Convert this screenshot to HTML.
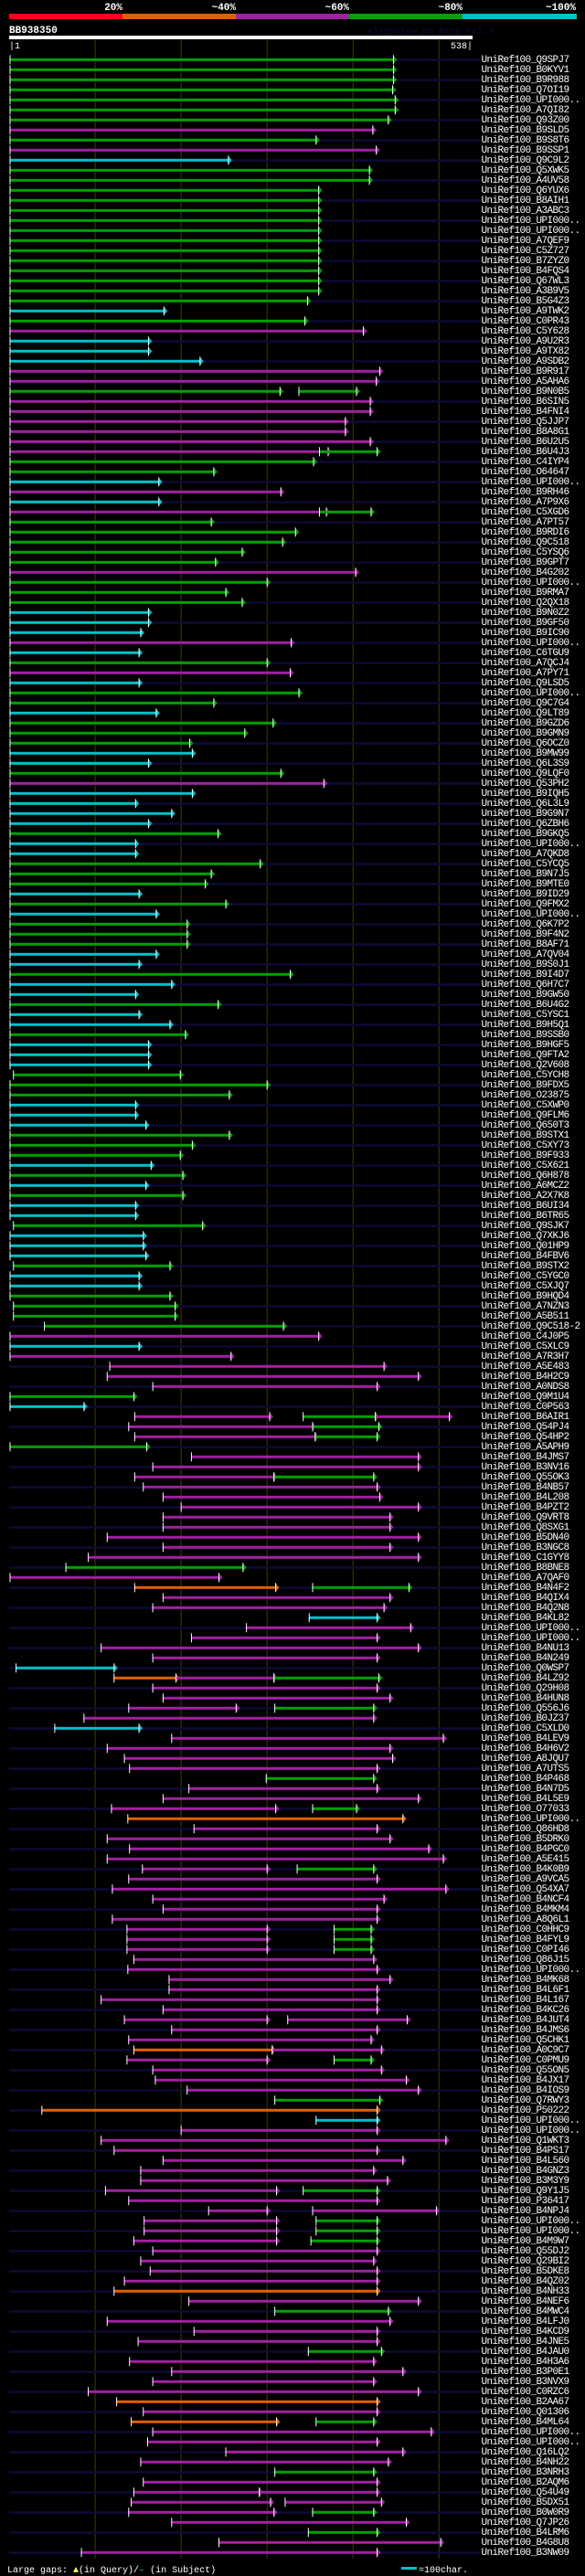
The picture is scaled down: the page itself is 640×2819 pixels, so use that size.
<!DOCTYPE html>
<html><head><meta charset="utf-8"><style>
html,body{margin:0;padding:0;background:#000;}
body{width:640px;height:2819px;overflow:hidden;position:relative;}
svg{position:absolute;left:0;top:0;}
text{font-family:"Liberation Mono",monospace;}
</style></head><body>
<svg id="chart" width="640" height="2819" xmlns="http://www.w3.org/2000/svg">
<g>
<rect x="10" y="15" width="124" height="6" fill="#ff0020"/>
<rect x="134" y="15" width="124" height="6" fill="#e06000"/>
<rect x="258" y="15" width="124" height="6" fill="#a020a0"/>
<rect x="382" y="15" width="124" height="6" fill="#00a000"/>
<rect x="506" y="15" width="125" height="6" fill="#00c0c8"/>
<g font-size="11" font-weight="bold" fill="#fff" text-anchor="end">
<text x="134" y="11">20%</text>
<text x="258" y="11">~40%</text>
<text x="382" y="11">~60%</text>
<text x="506" y="11">~80%</text>
<text x="630" y="11">~100%</text>
</g></g>
<text x="10" y="36" font-size="11" font-weight="bold" fill="#fff">BB938350</text>
<text x="402" y="37" font-size="10" fill="#0c0c40">AlignView.pm Beta rel.7</text>
<rect x="10" y="39" width="507" height="4" fill="#fff"/>
<text x="10" y="53" font-size="10" fill="#fff">|1</text>
<text x="517" y="53" font-size="10" fill="#fff" text-anchor="end">538|</text>
<g id="grid"></g>
<g id="rows"></g>
<g>
<text x="8" y="2815" font-size="10" fill="#fff">Large gaps: <tspan fill="#ffff60">▲</tspan>(in Query)/<tspan fill="#00c0c8">–</tspan> (in Subject)</text>
<rect x="439" y="2809" width="17" height="3" fill="#00c0c8"/>
<text x="458" y="2815" font-size="10" fill="#fff">=100char.</text>
</g>
</svg>
<script>
const queryLength = 538;
const gridTicks = [100, 200, 300, 400, 500];
const rowLabels = ["Q9SPJ7","B0KYV1","B9R988","Q7OI19","UPI000..","A7QI82","Q93Z00","B9SLD5","B9S8T6","B9SSP1","Q9C9L2","Q5XWK5","A4UV58","Q6YUX6","B8AIH1","A3ABC3","UPI000..","UPI000..","A7QEF9","C5Z727","B7ZYZ0","B4FQS4","Q67WL3","A3B9V5","B5G4Z3","A9TWK2","C0PR43","C5Y628","A9U2R3","A9TX82","A9SDB2","B9R917","A5AHA6","B9N0B5","B6SIN5","B4FNI4","Q5JJP7","B8A8G1","B6U2U5","B6U4J3","C4IYP4","O64647","UPI000..","B9RH46","A7P9X6","C5XGD6","A7PT57","B9RDI6","Q9C518","C5YSQ6","B9GPT7","B4G202","UPI000..","B9RMA7","Q2QX18","B9N0Z2","B9GF50","B9IC90","UPI000..","C6TGU9","A7QCJ4","A7PY71","Q9LSD5","UPI000..","Q9C7G4","Q9LT89","B9GZD6","B9GMN9","Q6OCZ0","B9MW99","Q6L3S9","Q9LQF0","Q53PH2","B9IQH5","Q6L3L9","B9G9N7","Q6ZBH6","B9GKQ5","UPI000..","A7QKD8","C5YCQ5","B9N7J5","B9MTE0","B9ID29","Q9FMX2","UPI000..","Q6K7P2","B9F4N2","B8AF71","A7QV04","B9S0J1","B9I4D7","Q6H7C7","B9GW50","B6U4G2","C5YSC1","B9H5Q1","B9SSB0","B9HGF5","Q9FTA2","Q2V608","C5YCH8","B9FDX5","O23875","C5XWP0","Q9FLM6","Q650T3","B9STX1","C5XY73","B9F933","C5X621","Q6H878","A6MCZ2","A2X7K8","B6UI34","B6TR65","Q9SJK7","Q7XKJ6","Q01HP9","B4FBV6","B9STX2","C5YGC0","C5XJQ7","B9HQD4","A7NZN3","A5B511","Q9C518-2","C4J0P5","C5XLC9","A7R3H7","A5E483","B4H2C9","A0NDS8","Q9M1U4","C0P563","B6AIR1","Q54PJ4","Q54HP2","A5APH9","B4JMS7","B3NV16","Q55OK3","B4NB57","B4L208","B4PZT2","Q9VRT8","Q8SXG1","B5DN40","B3NGC8","C1GYY8","B8BNE8","A7QAF0","B4N4F2","B4QIX4","B4Q2N8","B4KL82","UPI000..","UPI000..","B4NU13","B4N249","Q0WSP7","B4LZ92","Q29H08","B4HUN8","Q556J6","B0JZ37","C5XLD0","B4LEV9","B4H6V2","A8JQU7","A7UTS5","B4P468","B4N7D5","B4L5E9","O77033","UPI000..","Q86HD8","B5DRK0","B4PGC0","A5E415","B4K0B9","A9VCA5","Q54XA7","B4NCF4","B4MKM4","A8Q6L1","C0HHC9","B4FYL9","C0PI46","Q86J15","UPI000..","B4MK68","B4L6F1","B4L167","B4KC26","B4JUT4","B4JMS6","Q5CHK1","A0C9C7","C0PMU9","Q55ON5","B4JX17","B4IOS9","Q7RWY3","P50222","UPI000..","UPI000..","Q1WKT3","B4PS17","B4L560","B4GNZ3","B3M3Y9","Q9Y1J5","P36417","B4NPJ4","UPI000..","UPI000..","B4M9W7","Q55DJ2","Q29BI2","B5DKE8","B4QZ02","B4NH33","B4NEF6","B4MWC4","B4LFJ0","B4KCD9","B4JNE5","B4JAU0","B4H3A6","B3P0E1","B3NVX9","C0RZC6","B2AA67","Q01306","B4ML64","UPI000..","UPI000..","Q16LQ2","B4NH22","B3NRH3","B2AQM6","Q54U49","B5DX51","B0W0R9","Q7JP26","B4LRM6","B4G8U8","B3NW09"];
const rowSegs = ["g1-447","g1-447","g1-447","g1-446","g1-449","g1-449","g1-441","m1-423","g1-357","m1-427","c1-255","g1-419","g1-419","g1-360","g1-360","g1-360","g1-360","g1-360","g1-360","g1-360","g1-360","g1-360","g1-360","g1-360","g1-347","c1-180","g1-344","m1-412","c1-162","c1-162","c1-222","m1-431","m1-427","g1-315,g337-404","m1-420","m1-420","m1-391","m1-391","m1-420","m1-371,g361-428","g1-354","g1-238","c1-174","m1-316","c1-174","m1-369,g361-421","g1-235","g1-333","g1-318","g1-271","g1-240","m1-403","g1-300","g1-252","g1-271","c1-162","c1-162","c1-153","m1-328","c1-151","g1-300","m1-327","c1-151","g1-337","g1-238","c1-171","g1-307","g1-274","g1-210","c1-213","c1-162","g1-316","m1-366","c1-213","c1-147","c1-189","c1-162","g1-243","c1-147","c1-147","g1-292","g1-235","g1-228","c1-151","g1-252","c1-171","g1-207","g1-207","g1-207","c1-171","c1-151","g1-327","c1-189","c1-147","g1-243","c1-151","c1-187","g1-205","c1-162","c1-162","c1-162","g5-199","g1-300","g1-256","c1-147","c1-147","c1-159","g1-256","g1-213","g1-199","c1-165","g1-202","c1-159","g1-202","c1-147","c1-147","g5-225","c1-156","c1-156","c1-159","g5-187","c1-151","c1-151","g1-187","g5-193","g5-193","g41-319","m1-360","c1-151","m1-258","m117-436","m114-476","m167-428","g1-145","c1-87","m146-303,g342-426,m426-512","m139-353,g353-430","m146-356,g356-428","g1-160","m212-476","m167-476","m146-308,g308-424","m156-428","m179-431","m200-476","m179-443","m179-443","m114-476","m179-443","m92-476","g66-272","m1-244","o146-310,g353-465","m179-443","m167-436","c349-428","m276-467","m212-428","m107-476","m167-428","c8-122","o122-194,m194-308,g308-430","m167-428","m179-443","m139-264,g309-424","m87-424","c53-151","m189-505","m114-443","m134-446","m140-428","g299-424","m209-428","m179-476","m119-310,g353-404","o138-458","m215-428","m114-443","m140-488","m114-505","m155-300,g335-424","m139-428","m120-508","m167-436","m179-428","m120-428","m137-300,g378-421","m137-300,g378-421","m137-300,g378-421","m145-424","m138-428","m186-443","m186-428","m107-428","m179-428","m134-300,m324-463","m189-428","m139-421","o145-306,m306-433","m137-300,g378-421","m167-433","m170-462","m207-476","g309-431","o38-428","c357-428","m200-428","m107-508","m122-428","m179-458","m153-424","m153-440","m112-311,g342-428","m139-428","m232-300,m353-497","m157-311,g357-428","m157-311,g357-428","m145-311,g351-428","m167-428","m153-424","m164-428","m134-428","o122-428","m209-476","g309-441","m114-443","m215-428","m150-428","g348-433","m140-424","m189-458","m167-424","m92-476","o125-428","m156-428","o142-311,g357-424","m167-491","m161-428","m252-458","m153-441","g309-424","m156-428","m145-291,m291-428","m142-304,m321-433","m139-308,g353-424","m189-462","g348-428","m244-502","m84-428"];
</script>
<script>
const NS = "http://www.w3.org/2000/svg";
const colorMap = {g:"#00a000", m:"#a020a0", c:"#00c0c8", o:"#e06000", r:"#ff0020"};
const X0 = 11, X1 = 516;
function xScale(q){ return X0 + (q - 1) * (X1 - X0) / (queryLength - 1); }
function yScale(i){ return 65.3 + i * 11; }
function mk(tag, attrs){ const e = document.createElementNS(NS, tag); for (const k in attrs) e.setAttribute(k, attrs[k]); return e; }
const grid = document.getElementById('grid');
gridTicks.forEach(t => {
  const l = mk('line', {x1: xScale(t), x2: xScale(t), y1: 44, y2: 2800, stroke: '#3c3c08', 'stroke-width': 1});
  
  
  grid.appendChild(l);
});
const rowsG = document.getElementById('rows');
rowLabels.forEach((lab, i) => {
  const y = yScale(i);
  const g = mk('g', {});
  
  
  if (i % 2 === 0) {
    const bg = mk('rect', {x: 10, y: y - 1, width: 516, height: 2.5, fill: '#0b0b35'});
    
    
    g.appendChild(bg);
  }
  rowSegs[i].split(',').forEach(s => {
    const col = colorMap[s[0]];
    const [a, b] = s.slice(1).split('-').map(Number);
    const xa = xScale(a), xb = xScale(b);
    const bar = mk('rect', {x: xa, y: y - 1.5, width: Math.max(1, xb - xa), height: 3, fill: col});
    
    
    g.appendChild(bar);
    const tick = mk('rect', {x: xa - 0.5, y: y - 5, width: 1, height: 10, fill: '#fff'});
    
    
    g.appendChild(tick);
    const arr = mk('polygon', {points: `${xb},${y-4.5} ${xb+4},${y} ${xb},${y+4.5}`, fill: col});
    
    
    g.appendChild(arr);
    const edge = mk('rect', {x: xb - 0.5, y: y - 5, width: 1, height: 10, fill: '#fff'});
    
    
    g.appendChild(edge);
  });
  const t = mk('text', {x: 526.5, y: y + 2.5, 'font-size': 11, fill: '#fff', 'letter-spacing': '-0.6'});
  t.textContent = 'UniRef100_' + lab;
  
  
  g.appendChild(t);
  rowsG.appendChild(g);
});
</script>
</body></html>
